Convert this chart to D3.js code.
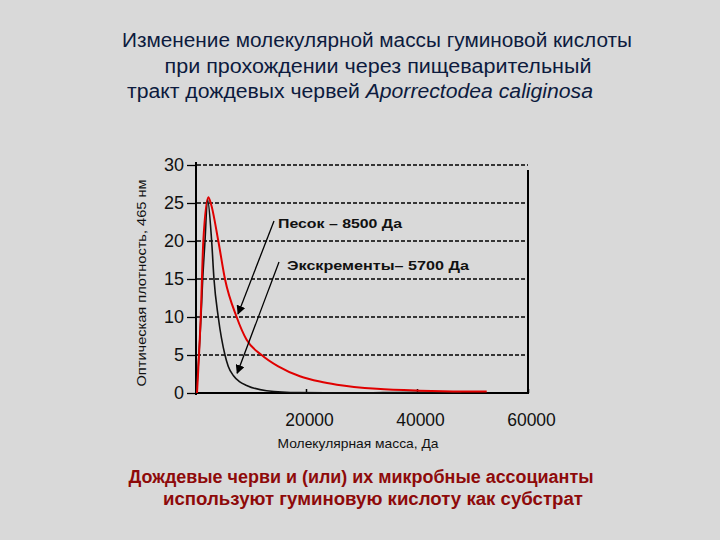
<!DOCTYPE html>
<html>
<head>
<meta charset="utf-8">
<script src="https://cdn.jsdelivr.net/npm/d3@7"></script>
<style>
  body { margin: 0; background: #d9d9d9; }
  svg { display: block; font-family: "Liberation Sans", Arial, sans-serif; }
</style>
</head>
<body>
<div id="chart-area"></div>
<script>
// Молекулярная масса (Да) / оптическая плотность
const sandMass = [360, 1030, 1500, 2400, 2830, 4200, 5400, 7500, 9300, 12000, 15000, 18900, 22500, 25560, 32760, 40500, 48240, 52560]
const sandOD   = [0, 10, 20, 25.75, 25, 20, 15, 10, 7, 5, 3.5, 2.2, 1.5, 1.1, 0.55, 0.3, 0.2, 0.2]
const castMass = [270, 1080, 1390, 1800, 2250, 3000, 3420, 4190, 5400, 6000, 6900, 8000, 9300, 12900, 18900, 27900, 40000, 48000]
const castOD   = [0, 10, 15, 20, 25.5, 20, 15, 10, 5, 3.5, 2.3, 1.5, 1, 0.3, 0.05, 0, 0.1, 0.1]
const yTicks = [0, 5, 10, 15, 20, 25, 30]
const xTicks = [20000, 40000, 60000]

const W = 720, H = 540

const svg = d3.select("#chart-area").append("svg")
  .attr("width", W)
  .attr("height", H)

svg.append("rect").attr("width", W).attr("height", H).attr("fill", "#d9d9d9")

const x = d3.scaleLinear().domain([0, 60000]).range([195, 528])
const y = d3.scaleLinear().domain([0, 30]).range([393, 165])

// title
function stretched(txt, cx, cy, len) {
  return svg.append("text")
    .attr("x", cx - len / 2).attr("y", cy)
    .attr("textLength", len)
    .attr("lengthAdjust", "spacingAndGlyphs")
    .text(txt)
}
const titleColor = "#0d1b3e"
stretched("Изменение молекулярной массы гуминовой кислоты", 377, 47, 510)
  .attr("font-size", "20px").attr("fill", titleColor)
stretched("при прохождении через пищеварительный", 378, 72.5, 427)
  .attr("font-size", "20px").attr("fill", titleColor)
const t3 = svg.append("text")
  .attr("x", 127).attr("y", 97.5)
  .attr("textLength", 466)
  .attr("lengthAdjust", "spacingAndGlyphs")
  .attr("font-size", "20px").attr("fill", titleColor)
t3.append("tspan").text("тракт дождевых червей ")
t3.append("tspan").attr("font-style", "italic").text("Aporrectodea caliginosa")

// grid lines
svg.selectAll("line.grid")
  .data(yTicks.filter(d => d > 0))
  .enter().append("line")
  .attr("class", "grid")
  .attr("x1", x(0) + 2).attr("x2", x(60000))
  .attr("y1", d => y(d)).attr("y2", d => y(d))
  .attr("stroke", "#000")
  .attr("stroke-width", 1.3)
  .attr("stroke-dasharray", "4,2")

// y axis
const yAxisGroup = svg.append("g")
  .attr("transform", `translate(${x(0) + 1}, 0)`)
  .call(d3.axisLeft(y).tickValues(yTicks).tickSize(9).tickPadding(3))
yAxisGroup.select(".domain").remove()
yAxisGroup.selectAll("text").attr("font-size", "18px").attr("fill", "#111")
yAxisGroup.selectAll("line").attr("stroke-width", 1.3)

// x axis
const xAxisGroup = svg.append("g")
  .attr("transform", `translate(0, ${y(0)})`)
  .call(d3.axisBottom(x).tickValues(xTicks).tickFormat(d => d).tickSize(-4).tickPadding(21))
xAxisGroup.select(".domain").remove()
xAxisGroup.selectAll("text").attr("font-size", "17.5px").attr("fill", "#111").attr("dx", 3)
xAxisGroup.selectAll("line").attr("stroke-width", 1.5)

// frame lines
svg.append("line")
  .attr("x1", x(0) + 1).attr("x2", x(0) + 1)
  .attr("y1", y(30) - 3).attr("y2", y(0) + 2)
  .attr("stroke", "#000").attr("stroke-width", 2)
svg.append("line")
  .attr("x1", x(0)).attr("x2", x(60000) + 1)
  .attr("y1", y(0)).attr("y2", y(0))
  .attr("stroke", "#000").attr("stroke-width", 2)
svg.append("line")
  .attr("x1", x(60000)).attr("x2", x(60000))
  .attr("y1", y(30) + 5).attr("y2", y(0) + 1)
  .attr("stroke", "#000").attr("stroke-width", 2)

// axis labels
stretched("Молекулярная масса, Да", 358, 448, 161)
  .attr("font-size", "13px").attr("fill", "#111")

svg.append("text")
  .attr("transform", `translate(146, 283) rotate(-90)`)
  .attr("x", -103.5)
  .attr("textLength", 207)
  .attr("lengthAdjust", "spacingAndGlyphs")
  .attr("font-size", "13px")
  .attr("fill", "#111")
  .text("Оптическая плотность, 465 нм")

// curves
const line = d3.line()
  .x(d => x(d[0]))
  .y(d => y(d[1]))
  .curve(d3.curveMonotoneX)

svg.append("path")
  .datum(castMass.map((m, i) => [m, castOD[i]]))
  .attr("d", line)
  .attr("fill", "none")
  .attr("stroke", "#111")
  .attr("stroke-width", 1.6)

svg.append("path")
  .datum(sandMass.map((m, i) => [m, sandOD[i]]))
  .attr("d", line)
  .attr("fill", "none")
  .attr("stroke", "#e00000")
  .attr("stroke-width", 2)

// annotations
svg.append("defs").append("marker")
  .attr("id", "arrow")
  .attr("viewBox", "0 0 10 10")
  .attr("refX", 9).attr("refY", 5)
  .attr("markerWidth", 7).attr("markerHeight", 7)
  .attr("orient", "auto")
  .append("path")
  .attr("d", "M0,0 L10,5 L0,10 z")
  .attr("fill", "#000")

svg.append("line")
  .attr("x1", 274).attr("y1", 221)
  .attr("x2", x(7750)).attr("y2", y(10.4))
  .attr("stroke", "#000").attr("stroke-width", 1.3)
  .attr("marker-end", "url(#arrow)")
svg.append("line")
  .attr("x1", 279).attr("y1", 262)
  .attr("x2", x(7600)).attr("y2", y(2.6))
  .attr("stroke", "#000").attr("stroke-width", 1.3)
  .attr("marker-end", "url(#arrow)")

stretched("Песок – 8500 Да", 278 + 62, 228, 124)
  .attr("font-size", "13.5px").attr("font-weight", "bold").attr("fill", "#111")
stretched("Экскременты– 5700 Да", 287 + 91, 270, 182)
  .attr("font-size", "13.5px").attr("font-weight", "bold").attr("fill", "#111")

// conclusion
stretched("Дождевые черви и (или) их микробные ассоцианты", 361, 483, 465)
  .attr("font-size", "17.5px").attr("font-weight", "bold").attr("fill", "#8e0a0a")
stretched("используют гуминовую кислоту как субстрат", 373, 504.5, 420)
  .attr("font-size", "17.5px").attr("font-weight", "bold").attr("fill", "#8e0a0a")
</script>
</body>
</html>
